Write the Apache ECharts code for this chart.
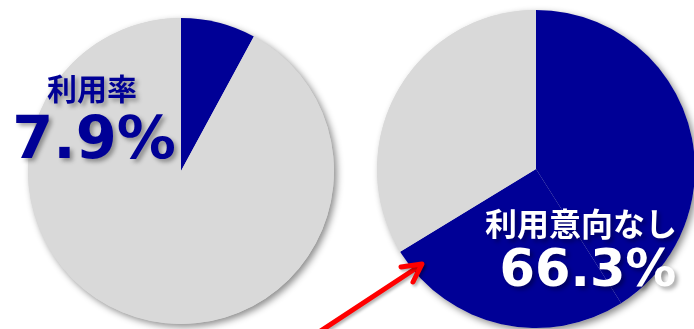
<!DOCTYPE html>
<html lang="ja">
<head>
  <meta charset="UTF-8">
  <title>利用率</title>
  <style>
    html, body { margin: 0; padding: 0; background: #fff; }
  </style>
</head>
<body>
  <div id="main" style="width: 694px;height: 329px;"></div>
  <script src="https://cdn.jsdelivr.net/npm/echarts@6/dist/echarts.min.js"></script>
  <script>
    // 左：利用率
    var leftNames = ['利用', 'その他'];
    var leftValues = [7.9, 92.1];
    // 右：利用意向（濃い青の2区分で 66.3%）
    var rightNames = ['利用意向なし(1)', '利用意向なし(2)', 'その他'];
    var rightValues = [41.0, 25.3, 33.7];

    var navy = '#000096';
    var grey = '#d9d9d9';

    var myChart = echarts.init(document.getElementById('main'));

    function toData(names, values, colors) {
      return values.map(function (v, i) {
        return { name: names[i], value: v, itemStyle: { color: colors[i] } };
      });
    }

    // 影用の円（下に敷く）
    function shadowDisc(center, r) {
      return {
        type: 'pie',
        center: center,
        radius: r,
        silent: true,
        label: { show: false },
        itemStyle: {
          color: grey,
          shadowColor: 'rgba(0,0,0,0.45)',
          shadowBlur: 7,
          shadowOffsetX: 3,
          shadowOffsetY: 3
        },
        data: [{ value: 1 }]
      };
    }

    function pie(center, r, data) {
      return {
        type: 'pie',
        center: center,
        radius: r,
        startAngle: 90,
        clockwise: true,
        silent: true,
        label: { show: false },
        labelLine: { show: false },
        itemStyle: { borderWidth: 0 },
        data: data
      };
    }

    var shadowText = {
      textShadowColor: 'rgba(0,0,0,0.35)',
      textShadowBlur: 4,
      textShadowOffsetX: 3,
      textShadowOffsetY: 3
    };

    function txt(x, y, s, size, color, family) {
      return {
        type: 'text',
        x: x,
        y: y,
        z: 10,
        silent: true,
        style: Object.assign({
          text: s,
          fill: color,
          font: 'bold ' + size + 'px ' + family,
          textAlign: 'center',
          textVerticalAlign: 'middle'
        }, shadowText)
      };
    }

    var option = {
      animation: false,
      series: [
        shadowDisc([181, 171], 153),
        pie([181, 171], 153, toData(leftNames, leftValues, [navy, grey])),
        shadowDisc([536, 169], 159),
        pie([536, 169], 159, toData(rightNames, rightValues, [navy, navy, grey]))
      ],
      graphic: [
        txt(92, 89, '利用率', 30, navy, '"Noto Sans CJK JP"'),
        txt(94, 143, '7.9%', 59, navy, '"DejaVu Sans"'),
        txt(581, 224, '利用意向なし', 32, '#fff', '"Noto Sans CJK JP"'),
        txt(588, 273, '66.3%', 51, '#fff', '"DejaVu Sans"'),
        {
          type: 'polyline',
          z: 10,
          silent: true,
          shape: { points: [[316, 334], [421, 265]] },
          style: {
            stroke: '#ff0000', lineWidth: 5, lineCap: 'round',
            shadowColor: 'rgba(0,0,0,0.3)', shadowBlur: 3, shadowOffsetX: 2, shadowOffsetY: 2
          }
        },
        {
          type: 'polyline',
          z: 10,
          silent: true,
          shape: { points: [[401, 267], [422, 264], [413, 282]] },
          style: {
            stroke: '#ff0000', lineWidth: 5, lineCap: 'round', lineJoin: 'round',
            shadowColor: 'rgba(0,0,0,0.3)', shadowBlur: 3, shadowOffsetX: 2, shadowOffsetY: 2
          }
        }
      ]
    };

    myChart.setOption(option);
  </script>
</body>
</html>
